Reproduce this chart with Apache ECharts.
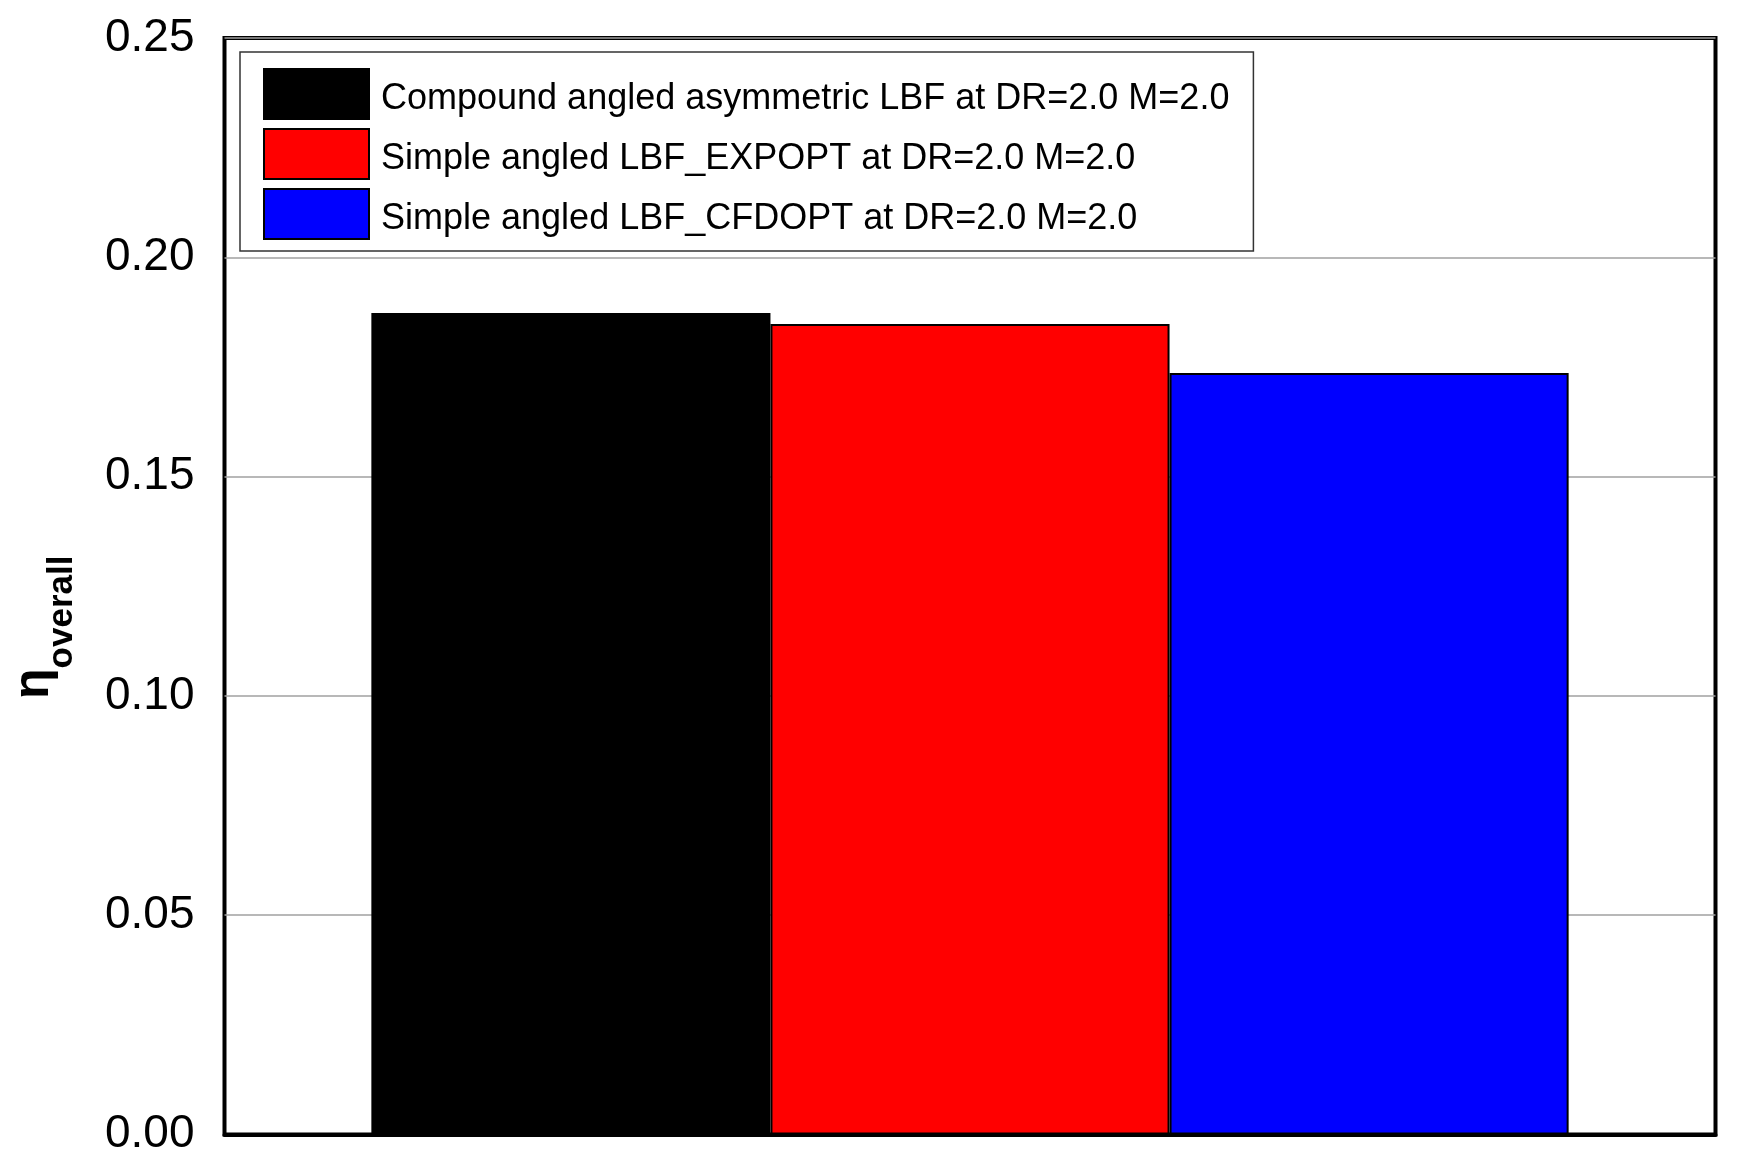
<!DOCTYPE html>
<html>
<head>
<meta charset="utf-8">
<script src="https://cdn.jsdelivr.net/npm/echarts@6/dist/echarts.min.js"></script>
<style>
  html, body { margin: 0; padding: 0; background: #fff; }
  #charts { width: 1743px; height: 1167px; }
</style>
</head>
<body>
<div id="charts"></div>
<script>
var categories = [''];
var seriesNames = [
    'Compound angled asymmetric LBF at DR=2.0 M=2.0',
    'Simple angled LBF_EXPOPT at DR=2.0 M=2.0',
    'Simple angled LBF_CFDOPT at DR=2.0 M=2.0'
];
var seriesValues = [0.1873, 0.1848, 0.1736];
var seriesColors = ['#000000', '#ff0000', '#0000ff'];
var yMin = 0, yMax = 0.25, yStep = 0.05;

var myChart = echarts.init(document.getElementById('charts'));

var series = seriesNames.map(function (name, i) {
    return {
        name: name,
        type: 'bar',
        barGap: '0%',
        barCategoryGap: '19.7%',
        itemStyle: {
            color: seriesColors[i],
            borderColor: '#000',
            borderWidth: 2
        },
        data: [seriesValues[i]]
    };
});

var option = {
    animation: false,
    backgroundColor: '#fff',
    textStyle: { fontFamily: 'Liberation Sans, Arial, sans-serif' },
    grid: {
        left: 224.5,
        right: 27.5,
        top: 38,
        bottom: 32.5,
        containLabel: false,
        outerBoundsMode: 'none',
        show: true,
        borderColor: '#000',
        borderWidth: 4
    },
    legend: {
        orient: 'vertical',
        left: 240,
        top: 52,
        padding: [16, 24, 11, 23],
        itemWidth: 105,
        itemHeight: 50,
        itemGap: 8,
        icon: 'rect',
        borderColor: '#333',
        borderWidth: 1.5,
        formatter: '{t|{name}}',
        textStyle: {
            fontSize: 36,
            color: '#000',
            padding: [0, 0, 0, 7],
            rich: {
                t: { fontSize: 36, color: '#000', padding: [10, 0, 0, 0] }
            }
        },
        data: seriesNames
    },
    xAxis: {
        type: 'category',
        data: categories,
        z: 5,
        axisLine: { show: true, lineStyle: { color: '#000', width: 4 } },
        axisTick: { show: false },
        axisLabel: { show: false }
    },
    yAxis: {
        type: 'value',
        min: yMin,
        max: yMax,
        interval: yStep,
        name: '{eta|η}{sub|overall}',
        nameLocation: 'middle',
        nameGap: 145,
        nameRotate: 90,
        nameTextStyle: {
            padding: [0, 82, 0, 0],
            rich: {
                eta: { fontSize: 50, fontWeight: 'bold', color: '#000', verticalAlign: 'bottom', lineHeight: 50, padding: [0, 0, 20, 0] },
                sub: { fontSize: 35, fontWeight: 'bold', color: '#000', verticalAlign: 'bottom', lineHeight: 38 }
            }
        },
        axisLine: { show: false },
        axisTick: { show: false },
        axisLabel: {
            fontSize: 46,
            color: '#000',
            margin: 30,
            formatter: function (v) { return v.toFixed(2); }
        },
        splitLine: { show: true, lineStyle: { color: '#a0a0a0', width: 1.5 } }
    },
    series: series
};
myChart.setOption(option);
</script>
</body>
</html>
